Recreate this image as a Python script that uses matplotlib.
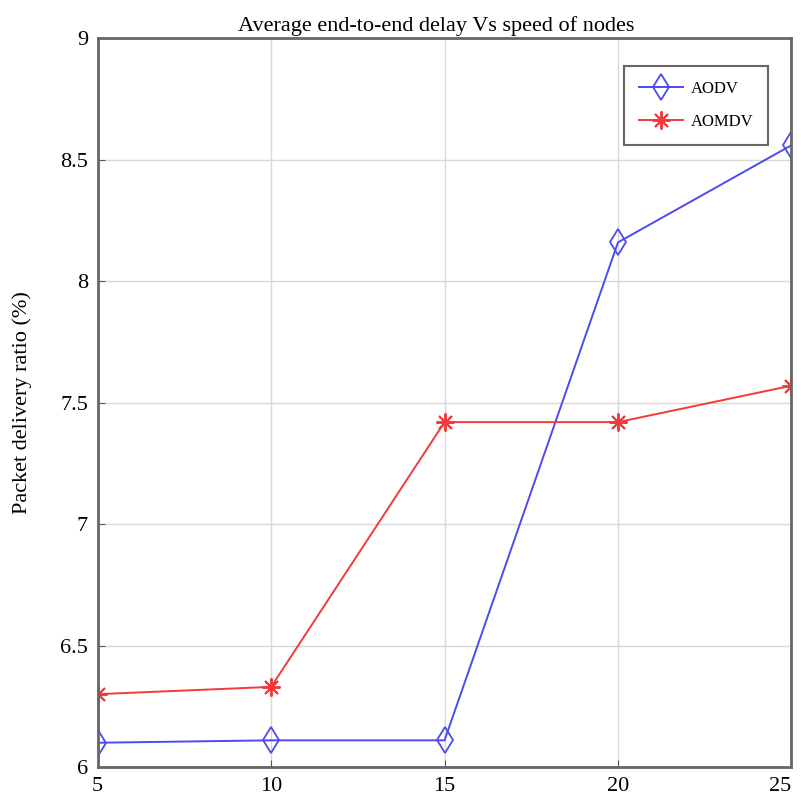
import matplotlib
matplotlib.use('Agg')
import matplotlib.pyplot as plt

# node speed and average delay per protocol
speeds = [5, 10, 15, 20, 25]
aodv = [6.10, 6.11, 6.11, 8.16, 8.56]
aomdv = [6.30, 6.33, 7.42, 7.42, 7.57]

x_ticks = [5, 10, 15, 20, 25]
y_ticks = [6, 6.5, 7, 7.5, 8, 8.5, 9]
y_tick_labels = ['6', '6.5', '7', '7.5', '8', '8.5', '9']

plt.rcParams['font.family'] = ['Liberation Serif', 'DejaVu Serif']

fig = plt.figure(figsize=(8.01, 7.99), dpi=100)
ax = fig.add_axes([0.122, 0.040, 0.866, 0.912])

ax.plot(speeds, aodv, color='#4b4bf0', linewidth=1.4, marker='d', markersize=13,
        markerfacecolor='none', markeredgecolor='#4b4bf0', markeredgewidth=1.3,
        label='AODV')
# asterisk marker: eight spokes like a plus over a cross
ax.plot(speeds, aomdv, color='#f23a3a', linewidth=1.4, marker=(8, 2, 0), markersize=13,
        markeredgewidth=1.4, label='AOMDV')

ax.set_xlim(5, 25)
ax.set_ylim(6, 9)
ax.set_xticks(x_ticks)
ax.set_yticks(y_ticks)
ax.set_yticklabels(y_tick_labels)
ax.tick_params(direction='in', labelsize=16, color='#555555', length=5, pad=7)
for lbl in ax.get_xticklabels()[-1:]:
    lbl.set_horizontalalignment('right')
ax.grid(True, color='#d8d8d8', linewidth=1.0)
for spine in ax.spines.values():
    spine.set_color('#666666')
    spine.set_linewidth(2.0)

ax.set_title('Average end-to-end delay Vs speed of nodes', fontsize=16, pad=5, x=0.488)
ax.set_ylabel('Packet delivery ratio (%)', fontsize=16, labelpad=20)

leg = ax.legend(loc='upper right', bbox_to_anchor=(0.967, 0.962), borderaxespad=0,
                fontsize=12, fancybox=False, framealpha=1, edgecolor='#666666',
                handlelength=2.6, handletextpad=0.5, borderpad=0.9, labelspacing=1.0)
leg.get_frame().set_linewidth(1.5)

fig.savefig('out.png', dpi=100)
